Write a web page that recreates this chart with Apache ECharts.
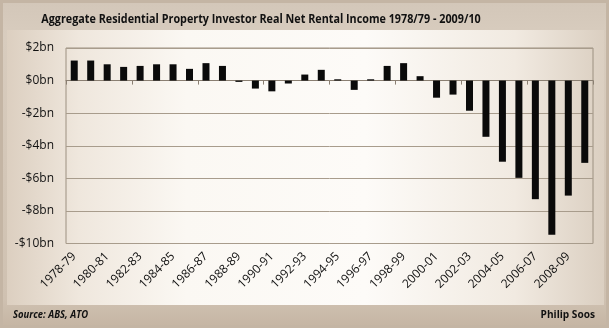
<!DOCTYPE html>
<html><head><meta charset="utf-8">
<script src="https://cdn.jsdelivr.net/npm/echarts@6/dist/echarts.min.js"></script>
<style>html,body{margin:0;padding:0;background:#c4b5a4}#c{width:609px;height:328px}</style>
</head><body><div id="c"></div>
<script>
const categories = ['1978-79','1979-80','1980-81','1981-82','1982-83','1983-84','1984-85','1985-86','1986-87','1987-88','1988-89','1989-90','1990-91','1991-92','1992-93','1993-94','1994-95','1995-96','1996-97','1997-98','1998-99','1999-00','2000-01','2001-02','2002-03','2003-04','2004-05','2005-06','2006-07','2007-08','2008-09','2009-10'];
const incomeBn = [1.23,1.23,1.0,0.84,0.9,1.0,1.0,0.72,1.07,0.9,-0.08,-0.49,-0.66,-0.18,0.37,0.66,0.08,-0.57,0.08,0.9,1.07,0.27,-1.05,-0.86,-1.85,-3.45,-4.98,-5.97,-7.28,-9.46,-7.06,-5.05];
const yTicks = [-10,-8,-6,-4,-2,0,2];
const titleText = 'Aggregate Residential Property Investor Real Net Rental Income 1978/79 - 2009/10';
const sourceText = 'Source: ABS, ATO';
const authorText = 'Philip Soos';

const chart = echarts.init(document.getElementById('c'));
const fmt = v => (v < 0 ? '-$' + Math.abs(v) : '$' + v) + 'bn';
chart.setOption({
  animation: false,
  backgroundColor: '#c4b5a4',
  graphic: [
    {type:'rect', z:-10, shape:{x:3,y:3,width:603,height:322}, style:{fill:{type:'linear',x:0,y:0,x2:0,y2:1,colorStops:[{offset:0,color:'#d3c7b9'},{offset:0.1,color:'#d8ccbe'},{offset:0.92,color:'#cfc1b1'},{offset:1,color:'#c6b6a4'}]}}},
    {type:'rect', z:-9, shape:{x:7,y:30,width:597,height:275}, style:{fill:{type:'linear',x:0,y:0,x2:1,y2:0,colorStops:[{offset:0,color:'#dccfc0'},{offset:0.12,color:'#efe7dd'},{offset:0.3,color:'#fbf8f3'},{offset:0.6,color:'#fdfbf8'},{offset:0.85,color:'#f1eae1'},{offset:1,color:'#dbcfc1'}]}}},
    {type:'text', x:261, y:19, scaleX:0.83, style:{text:titleText, font:'bold 13px "Open Sans"', fill:'#111', textAlign:'center', textVerticalAlign:'middle'}},
    {type:'text', x:13, y:315, scaleX:0.86, style:{text:sourceText, font:'italic bold 11px "Open Sans"', fill:'#111', textAlign:'left', textVerticalAlign:'middle'}},
    {type:'text', x:595, y:315, scaleX:0.92, style:{text:authorText, font:'bold 11px "Open Sans"', fill:'#111', textAlign:'right', textVerticalAlign:'middle'}}
  ],
  grid: {left:66, right:16, top:48, bottom:84.5, show:true, borderColor:'#9c9080', borderWidth:1, backgroundColor:'transparent'},
  xAxis: [
    {type:'category', data:categories, position:'bottom', axisLine:{onZero:true, lineStyle:{color:'#8a7f72', width:1}},
     axisTick:{show:true, length:4, lineStyle:{color:'#8a7f72'}}, axisLabel:{show:false}},
    {type:'category', data:categories, position:'bottom', axisLine:{show:false, onZero:false}, axisTick:{show:false},
     axisLabel:{interval:1, rotate:45, margin:11, fontFamily:'Open Sans', fontSize:12, color:'#111'}}
  ],
  yAxis: {type:'value', min:-10, max:2, interval:2, axisLine:{show:false}, axisTick:{show:false},
    splitLine:{lineStyle:{color:'#a89c8c', width:1}},
    axisLabel:{formatter:fmt, margin:12, fontFamily:'Open Sans', fontSize:12, color:'#111'}},
  series: [{type:'bar', xAxisIndex:0, data:incomeBn, barWidth:7, itemStyle:{color:'#0a0a0a'}}]
});
</script></body></html>
